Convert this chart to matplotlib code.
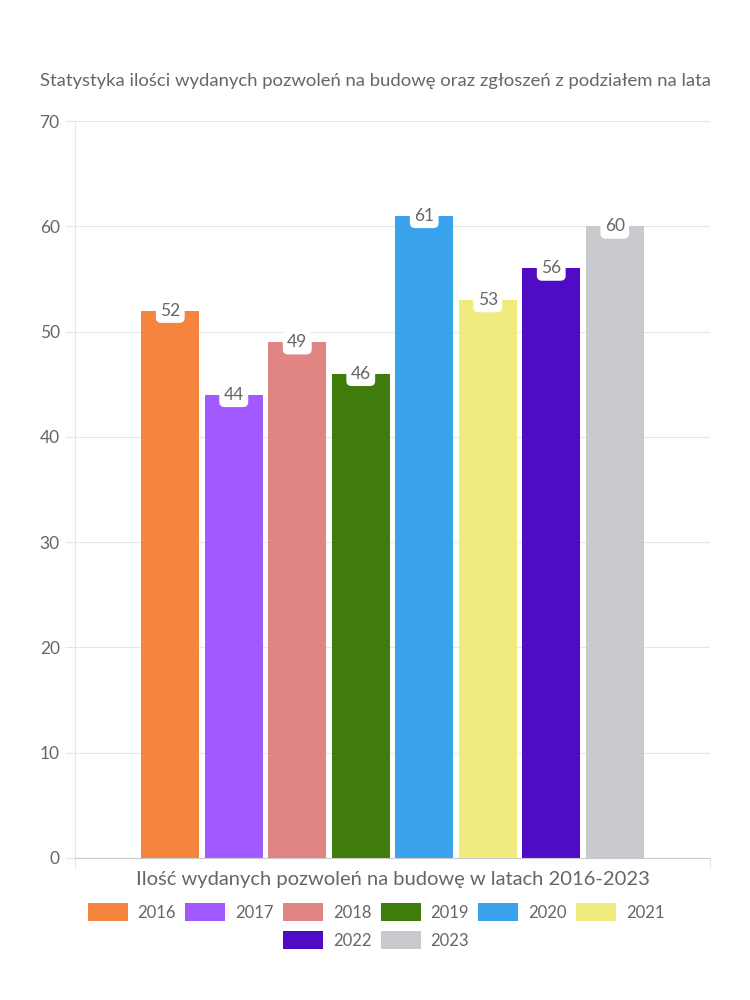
import matplotlib
matplotlib.use("Agg")
import matplotlib.pyplot as plt
from matplotlib.patches import Patch

years = ["2016", "2017", "2018", "2019", "2020", "2021", "2022", "2023"]
values = [52, 44, 49, 46, 61, 53, 56, 60]
colors = ["#F5843F", "#A259FF", "#E08484", "#3F7C0B", "#38A3EB", "#F0EB7E", "#500CC4", "#C9CACE"]
yticks = [0, 10, 20, 30, 40, 50, 60, 70]
title = "Statystyka ilości wydanych pozwoleń na budowę oraz zgłoszeń z podziałem na lata"
xlabel = "Ilość wydanych pozwoleń na budowę w latach 2016-2023"

plt.rcParams['font.family'] = ['Lato', 'DejaVu Sans']
txt = "#666666"
grid = "#E6E6E6"

fig = plt.figure(figsize=(7.5, 10), dpi=100)
ax = fig.add_axes([75/750, 1 - 858/1000, 635/750, (858-121)/1000])

n = len(values)
for i, (y, v, c) in enumerate(zip(years, values, colors)):
    x = i - (n - 1) / 2
    ax.bar(x, v, width=0.915, color=c, zorder=2)
    ax.text(x, v, str(v), ha="center", va="center", fontsize=12.5, color=txt, zorder=3,
            bbox=dict(boxstyle="round,pad=0.25,rounding_size=0.3", fc="white", ec="none"))

ax.set_xlim(-5.0, 5.0)
ax.set_ylim(0, 70)
ax.set_yticks(yticks)
ax.set_yticklabels([str(t) for t in yticks], fontsize=12.5, color=txt)
ax.tick_params(axis="y", length=7, color=grid, pad=4)
ax.set_xticks([-5.0, 5.0])
ax.set_xticklabels(["", ""])
ax.tick_params(axis="x", length=7, color=grid)
ax.grid(axis="y", color=grid, linewidth=0.8, zorder=0)
ax.axvline(5.0, color=grid, linewidth=0.8, zorder=0)
for s in ["top", "right"]:
    ax.spines[s].set_visible(False)
ax.spines["left"].set_color(grid)
ax.spines["bottom"].set_color("#CCCCCC")
ax.set_axisbelow(True)

fig.text(375/750, 1 - 81/1000, title, ha="center", va="center", fontsize=13.3, color=txt)
fig.text(393/750, 1 - 879/1000, xlabel, ha="center", va="center", fontsize=14.5, color=txt)

handles = [Patch(facecolor=c, label=y) for y, c in zip(years, colors)]
rows = [(handles[:6], 912), (handles[6:], 940)]
for hs, yc in rows:
    leg = fig.legend(handles=hs, loc="center", bbox_to_anchor=(376/750, 1 - yc/1000),
                     ncol=len(hs), frameon=False, fontsize=12, handlelength=2.4,
                     handleheight=1.35, columnspacing=0.55, handletextpad=0.6,
                     borderpad=0, borderaxespad=0)
    for t in leg.get_texts():
        t.set_color(txt)

fig.savefig("out.png", dpi=100, facecolor="white")
